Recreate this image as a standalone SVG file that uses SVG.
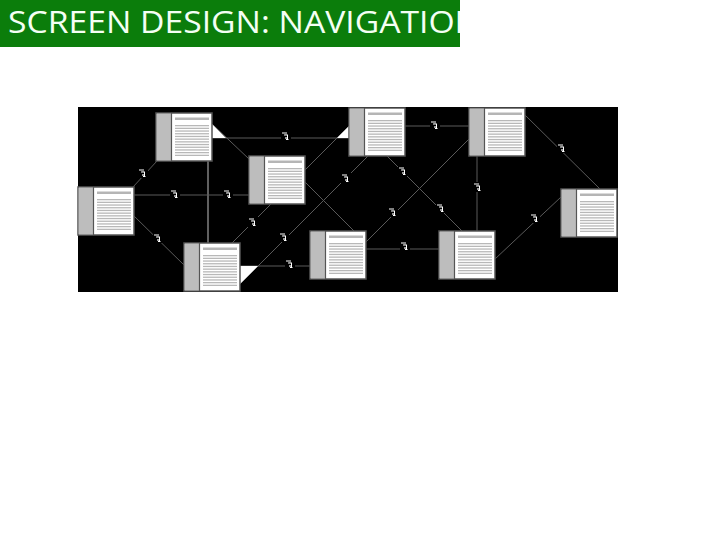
<svg xmlns="http://www.w3.org/2000/svg" width="720" height="540" viewBox="0 0 720 540">
  <style>
    .conn { stroke: #5a5a5a; stroke-width: 1; fill: none; }
    .thick { stroke: #606060; stroke-width: 2; }
    .tri { fill: #ffffff; stroke: none; }
    .title { font-family: "Open Sans", "Noto Sans", "Liberation Sans", sans-serif; font-size: 31px; fill: #f4fff4; }
  </style>
  <defs>
    <clipPath id="titleClip"><rect x="0" y="0" width="460" height="47"/></clipPath>
    <g id="page">
      <rect x="0" y="0" width="56" height="48" fill="#ffffff" stroke="#555555" stroke-width="1.5"/>
      <rect x="0.75" y="0.75" width="14.5" height="46.5" fill="#bdbdbd"/>
      <line x1="15.5" y1="0" x2="15.5" y2="48" stroke="#555555" stroke-width="1.2"/>
      <rect x="19" y="4.5" width="34" height="2.5" fill="#b5b5b5"/>
      <g fill="#b8b8b8">
        <rect x="19" y="12" width="34" height="1.3"/>
        <rect x="19" y="14.7" width="34" height="1.3"/>
        <rect x="19" y="17.4" width="34" height="1.3"/>
        <rect x="19" y="20.1" width="34" height="1.3"/>
        <rect x="19" y="22.8" width="34" height="1.3"/>
        <rect x="19" y="25.5" width="34" height="1.3"/>
        <rect x="19" y="28.2" width="34" height="1.3"/>
        <rect x="19" y="30.9" width="34" height="1.3"/>
        <rect x="19" y="33.6" width="34" height="1.3"/>
        <rect x="19" y="36.3" width="34" height="1.3"/>
        <rect x="19" y="39" width="34" height="1.3"/>
        <rect x="19" y="41.7" width="34" height="1.3"/>
      </g>
    </g>
    <g id="mark">
      <rect x="-5" y="-5" width="10" height="10" fill="#000000"/>
      <path d="M-4,-3 h3 M0,-4 v2.5 M-2,-1 h4 M1.5,-1 v4 M0,3.5 h2.5" stroke="#ffffff" stroke-width="1" fill="none"/>
      <rect x="-1" y="1" width="2" height="2" fill="#9a9a9a"/>
    </g>
  </defs>

  <!-- title bar -->
  <g id="title">
    <rect x="0" y="0" width="460" height="47" fill="#0b7d0b"/>
    <text class="title" x="8" y="33" clip-path="url(#titleClip)" textLength="472" lengthAdjust="spacingAndGlyphs">SCREEN DESIGN: NAVIGATION</text>
  </g>

  <!-- black panel -->
  <rect id="panel" x="78" y="107" width="540" height="185" fill="#000000"/>

  <!-- connectors -->
  <g id="connectors">
    <line class="conn" x1="212" y1="138" x2="349" y2="138"/>
    <line class="conn" x1="212" y1="124" x2="249" y2="159"/>
    <line class="conn" x1="157" y1="161" x2="133" y2="187"/>
    <line class="conn thick" x1="208" y1="161" x2="208" y2="243"/>
    <line class="conn" x1="134" y1="195" x2="249" y2="195"/>
    <line class="conn" x1="134" y1="216" x2="184" y2="265"/>
    <line class="conn" x1="349" y1="126" x2="232" y2="243"/>
    <line class="conn" x1="368" y1="156" x2="240" y2="284"/>
    <line class="conn" x1="240" y1="266" x2="310" y2="266"/>
    <line class="conn" x1="305" y1="182" x2="354" y2="231"/>
    <line class="conn" x1="405" y1="126" x2="469" y2="126"/>
    <line class="conn" x1="387" y1="156" x2="462" y2="231"/>
    <line class="conn" x1="469" y1="139" x2="366" y2="242"/>
    <line class="conn" x1="477" y1="156" x2="477" y2="231" stroke-width="1.5"/>
    <line class="conn" x1="525" y1="115" x2="600" y2="189"/>
    <line class="conn" x1="366" y1="249" x2="439" y2="249"/>
    <line class="conn" x1="495" y1="259" x2="561" y2="197"/>

    <polygon class="tri" points="212,124 212,138 226,138"/>
    <polygon class="tri" points="349,126 349,138 337,138"/>
    <polygon class="tri" points="240,266 258,266 240,284"/>

    <use href="#mark" x="286" y="136"/>
    <use href="#mark" x="143" y="173"/>
    <use href="#mark" x="175" y="194"/>
    <use href="#mark" x="228" y="194"/>
    <use href="#mark" x="158" y="238"/>
    <use href="#mark" x="253" y="222"/>
    <use href="#mark" x="346" y="178"/>
    <use href="#mark" x="284" y="237"/>
    <use href="#mark" x="290" y="264"/>
    <use href="#mark" x="435" y="125"/>
    <use href="#mark" x="403" y="171"/>
    <use href="#mark" x="441" y="208"/>
    <use href="#mark" x="393" y="212"/>
    <use href="#mark" x="478" y="187"/>
    <use href="#mark" x="562" y="148"/>
    <use href="#mark" x="405" y="246"/>
    <use href="#mark" x="535" y="218"/>
  </g>

  <!-- nodes -->
  <g id="nodeA"><use href="#page" x="156" y="113"/></g>
  <g id="nodeB"><use href="#page" x="249" y="156"/></g>
  <g id="nodeC"><use href="#page" x="349" y="108"/></g>
  <g id="nodeD"><use href="#page" x="469" y="108"/></g>
  <g id="nodeE"><use href="#page" x="78" y="187"/></g>
  <g id="nodeF"><use href="#page" x="184" y="243"/></g>
  <g id="nodeG"><use href="#page" x="310" y="231"/></g>
  <g id="nodeH"><use href="#page" x="439" y="231"/></g>
  <g id="nodeI"><use href="#page" x="561" y="189"/></g>
</svg>
